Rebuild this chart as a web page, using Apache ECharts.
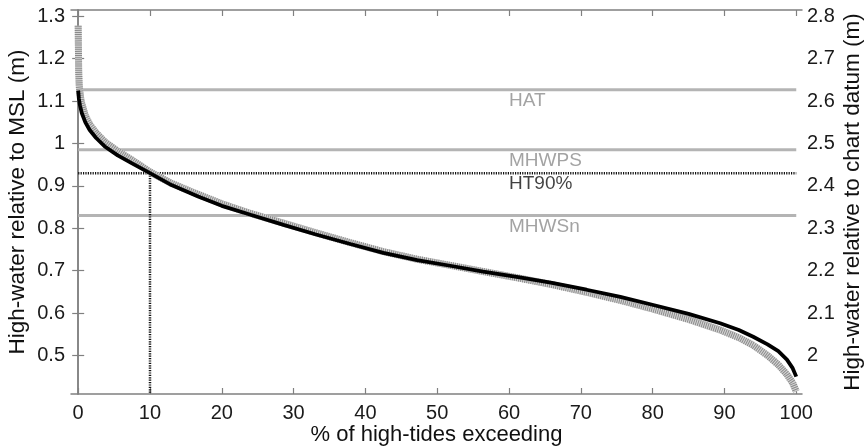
<!DOCTYPE html>
<html>
<head>
<meta charset="utf-8">
<script src="https://cdn.jsdelivr.net/npm/echarts@6/dist/echarts.min.js"></script>
<style>
  html, body { margin: 0; padding: 0; background: #fff; }
  #chart { width: 866px; height: 447px; }
</style>
</head>
<body>
<div id="chart"></div>
<script>
// Exceedance curves: % of high tides exceeding vs high-water level (m, MSL)
var blackX = [0, 0.1, 0.25, 0.5, 1, 1.6, 2.5, 3.7, 5.5, 7.5, 10, 13, 16.7, 20, 24, 28.6, 33, 37.9, 42.5, 47.2, 52, 56.4, 61.5, 66, 70.8, 75.5, 80.1, 85, 89.4, 92, 94, 96, 97.5, 98.7, 99.5, 100];
var blackY = [1.125, 1.105, 1.09, 1.072, 1.05, 1.032, 1.013, 0.993, 0.972, 0.953, 0.930, 0.902, 0.875, 0.853, 0.832, 0.808, 0.786, 0.763, 0.742, 0.725, 0.711, 0.698, 0.684, 0.671, 0.655, 0.638, 0.619, 0.598, 0.576, 0.560, 0.544, 0.526, 0.510, 0.490, 0.470, 0.450];

var greyX = [0, 0.03, 0.07, 0.15, 0.4, 1, 1.6, 2.5, 3.7, 5.5, 7.5, 10, 13, 16.7, 20, 24, 28.6, 33, 37.9, 42.5, 47.2, 52, 56.4, 61.5, 66, 70.8, 75.5, 80.1, 85, 89.4, 92, 94, 96, 97.5, 98.7, 99.5, 100];
var greyY = [1.278, 1.23, 1.17, 1.135, 1.10, 1.065, 1.045, 1.025, 1.004, 0.982, 0.961, 0.933, 0.906, 0.880, 0.858, 0.835, 0.812, 0.790, 0.766, 0.745, 0.727, 0.712, 0.698, 0.682, 0.667, 0.649, 0.630, 0.609, 0.585, 0.560, 0.542, 0.524, 0.500, 0.478, 0.455, 0.435, 0.415];

// Reference levels (m, MSL)
var levelNames = ['HAT', 'MHWPS', 'HT90%', 'MHWSn'];
var levelValues = [1.127, 0.985, 0.930, 0.830];
var ht90Percent = 10;

// Axis ticks
var xTicks = [0, 10, 20, 30, 40, 50, 60, 70, 80, 90, 100];
var leftTicks = [0.5, 0.6, 0.7, 0.8, 0.9, 1.0, 1.1, 1.2, 1.3];
var rightTicks = [2.0, 2.1, 2.2, 2.3, 2.4, 2.5, 2.6, 2.7, 2.8];
var datumOffset = 1.5;

var xMin = -1, xMax = 100.8;
var yMin = 0.409, yMax = 1.315;

var FONT = 'Liberation Sans, Arial, sans-serif';
var FRAME = '#808080';

function zip(xs, ys) { return xs.map(function (x, i) { return [x, ys[i]]; }); }
function fmt(v) { return String(Math.round(v * 10) / 10); }

var levelSeries = [];
var labelData = [];
levelNames.forEach(function (name, i) {
  var v = levelValues[i];
  var isHT = name === 'HT90%';
  levelSeries.push({
    type: 'line', silent: true, symbol: 'none', z: 1,
    data: [[0, v], [100, v]],
    lineStyle: isHT ? { color: '#111', width: 2.5, type: [1.2, 1.2] } : { color: '#b4b4b4', width: 3 }
  });
  labelData.push({
    value: [60, v],
    label: { formatter: name, color: isHT ? '#111' : '#8c8c8c' }
  });
});

var option = {
  animation: false,
  backgroundColor: '#fff',
  grid: { left: 71, right: 64, top: 10, bottom: 53, containLabel: false, outerBoundsMode: 'none' },
  xAxis: [{
    type: 'value', min: xMin, max: xMax, position: 'bottom',
    name: '% of high-tides exceeding', nameLocation: 'middle', nameGap: 30, nameMoveOverlap: false,
    nameTextStyle: { fontFamily: FONT, fontSize: 22, color: '#111' },
    axisLine: { show: true, lineStyle: { color: FRAME, width: 1.5 } },
    axisTick: { show: true, inside: true, length: 6, customValues: xTicks, lineStyle: { color: FRAME, width: 1.2 } },
    axisLabel: { show: true, customValues: xTicks, margin: 9, fontFamily: FONT, fontSize: 20, color: '#1a1a1a' },
    splitLine: { show: false }
  }, {
    type: 'value', min: xMin, max: xMax, position: 'top',
    axisLine: { show: true, lineStyle: { color: FRAME, width: 1.5 } },
    axisTick: { show: true, inside: true, length: 6, customValues: xTicks, lineStyle: { color: FRAME, width: 1.2 } },
    axisLabel: { show: false },
    splitLine: { show: false }
  }],
  yAxis: [{
    type: 'value', min: yMin, max: yMax, position: 'left',
    name: 'High-water relative to MSL (m)', nameLocation: 'middle', nameRotate: 90, nameGap: 42, nameMoveOverlap: false,
    nameTextStyle: { fontFamily: FONT, fontSize: 22.5, color: '#111' },
    axisLine: { show: true, lineStyle: { color: FRAME, width: 1.5 } },
    axisTick: { show: true, inside: true, length: 6, customValues: leftTicks, lineStyle: { color: FRAME, width: 1.2 } },
    axisLabel: { show: true, customValues: leftTicks, margin: 6, fontFamily: FONT, fontSize: 20, color: '#1a1a1a', formatter: fmt },
    splitLine: { show: false }
  }, {
    type: 'value', min: yMin + datumOffset, max: yMax + datumOffset, position: 'right',
    name: 'High-water relative to chart datum (m)', nameLocation: 'middle', nameRotate: 90, nameGap: 39, nameMoveOverlap: false,
    nameTextStyle: { fontFamily: FONT, fontSize: 22.5, color: '#111' },
    axisLine: { show: true, lineStyle: { color: FRAME, width: 1.5 } },
    axisTick: { show: true, inside: true, length: 6, customValues: rightTicks, lineStyle: { color: FRAME, width: 1.2 } },
    axisLabel: { show: true, customValues: rightTicks, margin: 5, fontFamily: FONT, fontSize: 20, color: '#1a1a1a', formatter: fmt },
    splitLine: { show: false }
  }],
  series: levelSeries.concat([
    {
      // HT90% exceedance marker at 10 %
      type: 'line', silent: true, symbol: 'none', z: 1,
      data: [[ht90Percent, levelValues[2]], [ht90Percent, yMin]],
      lineStyle: { color: '#111', width: 2.5, type: [1.2, 1.2] }
    },
    {
      // hatched grey curve: light base
      type: 'line', silent: true, symbol: 'none', z: 2,
      data: zip(greyX, greyY),
      lineStyle: { color: '#d4d4d4', width: 7, cap: 'butt' }
    },
    {
      // hatched grey curve: dark stripes
      type: 'line', silent: true, symbol: 'none', z: 3,
      data: zip(greyX, greyY),
      lineStyle: { color: '#8a8a8a', width: 7, type: [1, 1.1], cap: 'butt' }
    },
    {
      type: 'line', silent: true, symbol: 'none', z: 4,
      data: zip(blackX, blackY),
      lineStyle: { color: '#000', width: 3.8 }
    },
    {
      type: 'scatter', silent: true, symbolSize: 0, z: 5,
      data: labelData,
      label: { show: true, position: 'right', distance: 0, offset: [0, 11], fontFamily: FONT, fontSize: 19 }
    }
  ])
};

var chart = echarts.init(document.getElementById('chart'), null, { renderer: 'canvas' });
chart.setOption(option);
</script>
</body>
</html>
